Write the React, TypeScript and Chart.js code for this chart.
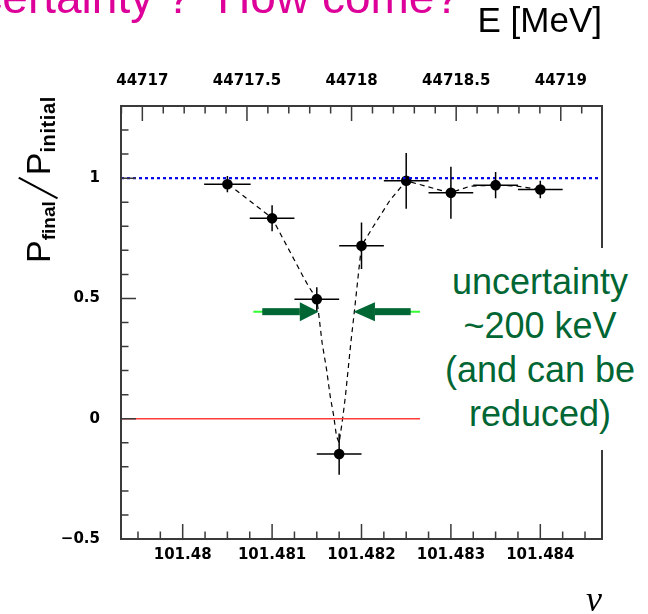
import React, { useEffect, useRef } from 'react';
import { Chart, registerables } from 'chart.js';

Chart.register(...registerables);

// Axis ranges
const NU_MIN = 101.47931;
const NU_MAX = 101.48469;
const E_MIN = 44716.898;
const E_MAX = 44719.197;
const Y_MIN = -0.5;
const Y_MAX = 1.3;

// Measured points
const POINT_NU = [101.4805, 101.481, 101.4815, 101.48175, 101.482, 101.4825, 101.483, 101.4835, 101.484];
const POINT_P = [0.975, 0.833, 0.497, -0.147, 0.719, 0.989, 0.939, 0.971, 0.953];
const POINT_NU_ERR = [0.00026, 0.00025, 0.00025, 0.00025, 0.00025, 0.00025, 0.00025, 0.00025, 0.00025];
const POINT_P_ERR = [0.034, 0.054, 0.05, 0.086, 0.097, 0.116, 0.108, 0.055, 0.036];

// Dashed fit curve
const CURVE_NU = [
  101.48051, 101.481, 101.48135, 101.48141, 101.4815, 101.48152, 101.48156, 101.48161,
  101.48165, 101.48169, 101.48172, 101.48175, 101.48179, 101.48182, 101.48185, 101.48188,
  101.48192, 101.48197, 101.482, 101.48213, 101.48232, 101.4825, 101.48299, 101.48322,
  101.4835, 101.48374, 101.484,
];
const CURVE_P = [
  0.975, 0.834, 0.589, 0.549, 0.498, 0.439, 0.314, 0.203,
  0.093, 0.01, -0.073, -0.1, 0.003, 0.093, 0.203, 0.314,
  0.445, 0.618, 0.719, 0.798, 0.909, 0.989, 0.939, 0.967,
  0.971, 0.967, 0.953,
];

// Reference levels
const LEVEL_BLUE = 1;
const LEVEL_RED = 0;

// Arrow annotation (in data units)
const ARROW_P = 0.445;
const ARROW_LEFT = { line: 101.48079, shaft: 101.48089, head: 101.48131, tip: 101.48152 };
const ARROW_RIGHT = { line: 101.48266, shaft: 101.48255, head: 101.48215, tip: 101.48191 };

// Tick steps
const Y_MAJOR = 0.5;
const Y_MINOR = 0.1;
const NU_MAJOR = 0.001;
const NU_MINOR = 0.00025;
const E_MAJOR = 0.5;
const E_MINOR = 0.1;

const TICK_FONT = { family: '"DejaVu Sans", sans-serif', size: 15, weight: 'bold' as const };

function tickValues(min: number, max: number, step: number) {
  const out: number[] = [];
  const start = Math.ceil(min / step - 1e-9);
  for (let k = start; k * step <= max + step * 1e-6; k++) out.push(k * step);
  return out;
}
function isMajor(v: number, major: number) {
  const r = v / major;
  return Math.abs(r - Math.round(r)) < 1e-4;
}

const decorPlugin = {
  id: 'decor',
  afterDatasetsDraw(chart: any) {
    const { ctx, scales } = chart;
    const xs = scales.x;
    const ys = scales.y;
    ctx.save();
    // error bars
    ctx.strokeStyle = '#000';
    ctx.lineWidth = 1.5;
    POINT_NU.forEach((nu, i) => {
      const px = xs.getPixelForValue(nu);
      const py = ys.getPixelForValue(POINT_P[i]);
      const x1 = xs.getPixelForValue(nu - POINT_NU_ERR[i]);
      const x2 = xs.getPixelForValue(nu + POINT_NU_ERR[i]);
      const y1 = ys.getPixelForValue(POINT_P[i] - POINT_P_ERR[i]);
      const y2 = ys.getPixelForValue(POINT_P[i] + POINT_P_ERR[i]);
      ctx.beginPath();
      ctx.moveTo(x1, py);
      ctx.lineTo(x2, py);
      ctx.moveTo(px, y1);
      ctx.lineTo(px, y2);
      ctx.stroke();
    });
    // arrows
    const ay = ys.getPixelForValue(ARROW_P);
    [ARROW_LEFT, ARROW_RIGHT].forEach((a) => {
      const xl = xs.getPixelForValue(a.line);
      const xsft = xs.getPixelForValue(a.shaft);
      const xh = xs.getPixelForValue(a.head);
      const xt = xs.getPixelForValue(a.tip);
      ctx.strokeStyle = '#33ff33';
      ctx.lineWidth = 2;
      ctx.beginPath();
      ctx.moveTo(xl, ay);
      ctx.lineTo(xh, ay);
      ctx.stroke();
      ctx.fillStyle = '#006633';
      ctx.fillRect(Math.min(xsft, xh), ay - 3.5, Math.abs(xh - xsft), 7);
      ctx.beginPath();
      ctx.moveTo(xh, ay - 9.5);
      ctx.lineTo(xt, ay);
      ctx.lineTo(xh, ay + 9.5);
      ctx.closePath();
      ctx.fill();
    });
    ctx.restore();
  },
  afterDraw(chart: any) {
    const { ctx, chartArea: a, scales } = chart;
    const xs = scales.x;
    const ys = scales.y;
    const xt = scales.x2;
    ctx.save();
    ctx.strokeStyle = '#3a3a3a';
    ctx.lineWidth = 1.5;
    ctx.beginPath();
    tickValues(Y_MIN, Y_MAX, Y_MINOR).forEach((v) => {
      const p = ys.getPixelForValue(v);
      const len = isMajor(v, Y_MAJOR) ? 15 : 7.5;
      ctx.moveTo(a.left, p);
      ctx.lineTo(a.left + len, p);
    });
    tickValues(NU_MIN, NU_MAX, NU_MINOR).forEach((v) => {
      const p = xs.getPixelForValue(v);
      const len = isMajor(v, NU_MAJOR) ? 15 : 7.5;
      ctx.moveTo(p, a.bottom);
      ctx.lineTo(p, a.bottom - len);
    });
    tickValues(E_MIN, E_MAX, E_MINOR).forEach((v) => {
      const p = xt.getPixelForValue(v);
      const len = isMajor(v, E_MAJOR) ? 15 : 7.5;
      ctx.moveTo(p, a.top);
      ctx.lineTo(p, a.top + len);
    });
    ctx.stroke();
    ctx.lineWidth = 2;
    ctx.strokeRect(a.left, a.top, a.right - a.left, a.bottom - a.top);
    ctx.restore();
  },
};

export default function App() {
  const ref = useRef<HTMLCanvasElement | null>(null);

  useEffect(() => {
    if (!ref.current) return;
    const chart = new Chart(ref.current, {
      type: 'scatter',
      data: {
        datasets: [
          {
            type: 'line',
            label: 'zero',
            data: [{ x: NU_MIN, y: LEVEL_RED }, { x: NU_MAX, y: LEVEL_RED }],
            borderColor: '#ff3b3b',
            borderWidth: 1.5,
            pointRadius: 0,
            xAxisID: 'x',
            yAxisID: 'y',
          },
          {
            type: 'line',
            label: 'one',
            data: [{ x: NU_MIN, y: LEVEL_BLUE }, { x: NU_MAX, y: LEVEL_BLUE }],
            borderColor: '#0000ee',
            borderWidth: 2.2,
            borderDash: [3, 3],
            pointRadius: 0,
            xAxisID: 'x',
            yAxisID: 'y',
          },
          {
            type: 'line',
            label: 'fit',
            data: CURVE_NU.map((x, i) => ({ x, y: CURVE_P[i] })),
            borderColor: '#000',
            borderWidth: 1.2,
            borderDash: [5, 4],
            pointRadius: 0,
            tension: 0,
            xAxisID: 'x',
            yAxisID: 'y',
          },
          {
            type: 'scatter',
            label: 'data',
            data: POINT_NU.map((x, i) => ({ x, y: POINT_P[i] })),
            backgroundColor: '#000',
            borderWidth: 0,
            pointRadius: 5.3,
            xAxisID: 'x',
            yAxisID: 'y',
          },
        ] as any,
      },
      options: {
        animation: false,
        responsive: false,
        devicePixelRatio: 1,
        layout: { padding: { left: 0, top: 0, right: 46, bottom: 0 } },
        plugins: { legend: { display: false }, tooltip: { enabled: false } },
        scales: {
          x: {
            type: 'linear',
            position: 'bottom',
            min: NU_MIN,
            max: NU_MAX,
            grid: { display: false, drawTicks: false },
            border: { display: false },
            ticks: {
              stepSize: NU_MAJOR,
              includeBounds: false,
              padding: 7,
              color: '#000',
              font: TICK_FONT,
              maxRotation: 0,
              autoSkip: false,
              callback: (v: any) => String(Number(Number(v).toFixed(3))),
            },
            title: {
              display: true,
              text: 'ν',
              align: 'end',
              color: '#000',
              font: { family: '"Liberation Serif", serif', size: 36, style: 'italic' },
              padding: { top: 0, bottom: -9 },
            },
            afterFit: (s: any) => {
              s.height = 75;
            },
          },
          x2: {
            type: 'linear',
            position: 'top',
            min: E_MIN,
            max: E_MAX,
            grid: { display: false, drawTicks: false },
            border: { display: false },
            ticks: {
              stepSize: E_MAJOR,
              includeBounds: false,
              padding: 16,
              color: '#000',
              font: TICK_FONT,
              maxRotation: 0,
              autoSkip: false,
              callback: (v: any) => String(Number(Number(v).toFixed(1))),
            },
            title: {
              display: true,
              text: 'E [MeV]',
              align: 'end',
              color: '#000',
              font: { family: '"Liberation Sans", Arial, sans-serif', size: 35 },
              padding: { top: 1, bottom: 0 },
            },
            afterFit: (s: any) => {
              s.height = 106;
            },
          },
          y: {
            type: 'linear',
            min: Y_MIN,
            max: Y_MAX,
            grid: { display: false, drawTicks: false },
            border: { display: false },
            ticks: {
              stepSize: Y_MAJOR,
              includeBounds: false,
              padding: 21,
              color: '#000',
              font: TICK_FONT,
              callback: (v: any) => {
                const n = Number(Number(v).toFixed(2));
                return n < 0 ? '\u2212' + String(Math.abs(n)) : String(n);
              },
            },
            afterFit: (s: any) => {
              s.width = 121;
            },
          },
        },
      } as any,
      plugins: [decorPlugin],
    });
    return () => chart.destroy();
  }, []);

  const sans = '"Liberation Sans", Arial, sans-serif';

  return (
    <div
      style={{
        position: 'absolute',
        left: 0,
        top: 0,
        width: 648,
        height: 614,
        overflow: 'hidden',
        background: '#fff',
      }}
    >
      <canvas ref={ref} width={648} height={614} style={{ position: 'absolute', left: 0, top: 0, width: 648, height: 614 }} />
      <div
        style={{
          position: 'absolute',
          right: 188,
          top: -26,
          fontFamily: sans,
          fontSize: 46,
          lineHeight: '46px',
          whiteSpace: 'nowrap',
          color: '#dd0099',
        }}
      >
        {'uncertainty ?\u00a0 How come?'}
      </div>
      <div
        style={{
          position: 'absolute',
          left: 0,
          top: 0,
          transformOrigin: '0 0',
          transform: 'translate(21px, 263px) rotate(-90deg)',
          fontFamily: sans,
          fontSize: 34,
          lineHeight: '34px',
          whiteSpace: 'nowrap',
          color: '#000',
        }}
      >
        <span>P</span>
        <span style={{ fontSize: 19, fontWeight: 'bold', position: 'relative', top: 5 }}>final</span>
        <span
          style={{
            display: 'inline-block',
            position: 'relative',
            width: 26,
            height: 0,
          }}
        >
          <span
            style={{
              position: 'absolute',
              left: 12,
              bottom: -10,
              width: 1.6,
              height: 44,
              background: '#000',
              transform: 'rotate(28deg)',
              transformOrigin: '50% 50%',
            }}
          />
        </span>
        <span>P</span>
        <span style={{ fontSize: 20, fontWeight: 'bold', position: 'relative', top: 5, letterSpacing: 0.6 }}>initial</span>
      </div>
      <div
        style={{
          position: 'absolute',
          left: 420,
          top: 248,
          width: 228,
          height: 202,
          boxSizing: 'border-box',
          paddingTop: 12,
          paddingLeft: 12,
          background: '#fff',
          color: '#006633',
          fontFamily: sans,
          fontSize: 36,
          lineHeight: '44px',
          textAlign: 'center',
          whiteSpace: 'nowrap',
        }}
      >
        <div>uncertainty</div>
        <div>~200 keV</div>
        <div>(and can be</div>
        <div>reduced)</div>
      </div>
    </div>
  );
}
